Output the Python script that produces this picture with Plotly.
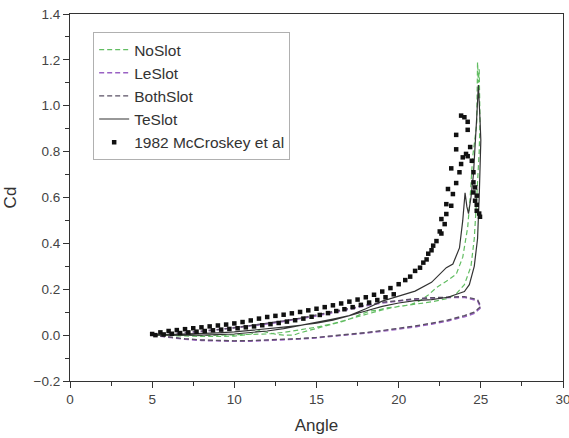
import plotly.graph_objects as go

# ---------------- data ----------------
# NoSlot (upstroke then downstroke)
noslot_angle = [5.0, 6, 7, 8, 9, 10, 11, 11.5, 12, 12.5, 13, 13.6, 14, 14.8, 15.8, 16.6, 17.2, 17.65, 18.26, 18.8,
                19.2, 19.5, 20.0, 20.3, 20.8, 21.3, 21.8, 22.3, 22.9, 23.5, 23.9, 24.2, 24.35, 24.5, 24.75, 24.8,
                24.85, 24.9, 24.95,
                24.9, 24.75, 24.6, 24.4, 24.0, 23.5, 23, 22, 21, 20, 19, 18, 17, 16, 15, 14, 13, 12, 10, 8, 5]
noslot_cd = [0.0, -0.003, -0.005, -0.006, -0.006, -0.004, 0.004, 0.02, 0.012, 0.004, 0.0, 0.0, 0.01, 0.025, 0.047,
             0.06, 0.075, 0.09, 0.105, 0.11, 0.118, 0.12, 0.122, 0.127, 0.135, 0.15, 0.175, 0.207, 0.235, 0.265,
             0.34, 0.47, 0.6, 0.775, 0.92, 1.19, 1.1, 1.16, 0.935,
             0.8, 0.6, 0.42, 0.3, 0.22, 0.18, 0.16, 0.145, 0.135, 0.125, 0.11, 0.09, 0.07, 0.05, 0.035, 0.022,
             0.012, 0.005, 0.0, -0.002, 0.0]

# LeSlot loop
leslot_angle = [5, 6, 7, 8, 9, 10, 11, 12, 13, 14, 15, 16, 17, 18, 19, 20, 21, 22, 23, 24, 24.6, 25,
                24.8, 24, 23, 22, 21, 20, 19, 18, 17, 16, 15, 14, 13, 12, 11, 10, 9, 8, 7, 6, 5]
leslot_cd = [0.0, -0.01, -0.018, -0.023, -0.026, -0.027, -0.026, -0.024, -0.021, -0.017, -0.012, -0.006, 0.001,
             0.009, 0.017, 0.026, 0.036, 0.048, 0.062, 0.08, 0.095, 0.12,
             0.15, 0.165, 0.165, 0.162, 0.157, 0.15, 0.14, 0.128, 0.112, 0.098, 0.084, 0.071, 0.06, 0.049, 0.04,
             0.031, 0.023, 0.016, 0.01, 0.005, 0.0]

# BothSlot loop
bothslot_angle = [5, 6, 7, 8, 9, 10, 11, 12, 13, 14, 15, 16, 17, 18, 19, 20, 21, 22, 23, 24, 24.6, 25,
                  24.8, 24, 23, 22, 21, 20, 19, 18, 17, 16, 15, 14, 13, 12, 11, 10, 9, 8, 7, 6, 5]
bothslot_cd = [0.0, -0.009, -0.016, -0.021, -0.024, -0.025, -0.024, -0.022, -0.019, -0.015, -0.01, -0.004, 0.003,
               0.011, 0.02, 0.029, 0.04, 0.052, 0.066, 0.085, 0.1, 0.125,
               0.155, 0.168, 0.167, 0.163, 0.158, 0.152, 0.143, 0.131, 0.116, 0.101, 0.087, 0.074, 0.062, 0.051,
               0.041, 0.032, 0.024, 0.017, 0.011, 0.005, 0.0]

# TeSlot (upstroke then downstroke)
teslot_angle = [5.0, 6, 7, 8, 9, 10, 11, 12, 13, 14, 15, 16, 17, 18, 19, 20, 21, 22, 22.9, 23.3, 23.7, 23.9,
                24.04, 24.15, 24.25, 24.4, 24.55, 24.75, 24.85, 24.95, 25.0,
                24.9, 24.8, 24.6, 24.3, 24.0, 23, 22, 21, 20, 19, 18, 17, 16, 15, 14, 13, 12, 11, 10, 8, 5]
teslot_cd = [0.0, 0.002, 0.004, 0.007, 0.01, 0.014, 0.02, 0.027, 0.035, 0.043, 0.052, 0.065, 0.085, 0.115, 0.148,
             0.17, 0.192, 0.23, 0.294, 0.31, 0.38, 0.5, 0.62, 0.56, 0.53, 0.6, 0.7, 0.95, 1.09, 0.94, 0.85,
             0.6, 0.42, 0.3, 0.22, 0.19, 0.165, 0.155, 0.15, 0.14, 0.125, 0.105, 0.085, 0.07, 0.055, 0.04, 0.028,
             0.018, 0.01, 0.005, 0.0, 0.0]

# 1982 McCroskey et al. experimental points
exp_upper_angle = [5.0, 5.5, 6.0, 6.5, 7.0, 7.5, 8.0, 8.5, 9.0, 9.5, 10.0, 10.5, 11.0, 11.5, 12.0, 12.5, 13.0,
                   13.5, 14.0, 14.5, 15.0, 15.5, 16.0, 16.5, 17.0, 17.5, 18.0, 18.5, 19.0, 19.5, 20.0]
exp_upper_cd = [0.005, 0.012, 0.018, 0.022, 0.026, 0.03, 0.034, 0.038, 0.042, 0.046, 0.051, 0.057, 0.064, 0.072,
                0.079, 0.084, 0.089, 0.095, 0.101, 0.108, 0.115, 0.122, 0.13, 0.138, 0.146, 0.155, 0.165, 0.176,
                0.19, 0.205, 0.222]
exp_lower_angle = [5.2, 5.7, 6.2, 6.7, 7.2, 7.7, 8.2, 8.7, 9.2, 9.7, 10.2, 10.7, 11.2, 11.7, 12.2, 12.7, 13.2,
                   13.7, 14.2, 14.7, 15.2, 15.7, 16.2, 16.7, 17.2, 17.7, 18.2, 18.7, 19.2, 19.7]
exp_lower_cd = [0.0, 0.003, 0.006, 0.009, 0.012, 0.015, 0.018, 0.021, 0.024, 0.027, 0.03, 0.034, 0.038, 0.043,
                0.048, 0.053, 0.059, 0.065, 0.072, 0.08, 0.088, 0.096, 0.105, 0.113, 0.122, 0.132, 0.142, 0.153,
                0.165, 0.178]
exp_stall_angle = [20.4, 20.7, 21.0, 21.3, 21.5, 21.7, 21.8, 22.0, 22.1, 22.3, 22.5, 22.6, 22.6, 22.8, 22.9, 22.9,
                   23.0, 23.2, 23.2, 23.3, 23.5, 23.5, 23.5, 23.7, 23.8, 23.8, 23.9, 24.0, 24.1, 24.2, 24.2, 24.2,
                   24.35, 24.45, 24.55, 24.55, 24.65, 24.55, 24.75, 24.65, 24.75, 24.75, 24.9, 24.95]
exp_stall_cd = [0.24, 0.255, 0.28, 0.294, 0.316, 0.33, 0.355, 0.37, 0.39, 0.41, 0.452, 0.443, 0.506, 0.484, 0.528,
                0.571, 0.637, 0.564, 0.727, 0.615, 0.663, 0.81, 0.873, 0.71, 0.746, 0.957, 0.775, 0.95, 0.79, 0.93,
                0.78, 0.895, 0.82, 0.76, 0.71, 0.666, 0.644, 0.622, 0.608, 0.586, 0.568, 0.542, 0.53, 0.516]

exp_angle = exp_upper_angle + exp_lower_angle + exp_stall_angle
exp_cd = exp_upper_cd + exp_lower_cd + exp_stall_cd

# ---------------- figure ----------------
FONT = "Liberation Sans, Arial, sans-serif"
fig = go.Figure()

fig.add_trace(go.Scatter(x=noslot_angle, y=noslot_cd, mode="lines", name="NoSlot",
                         line=dict(color="#62bd62", width=1.2, dash="5px,3px")))
fig.add_trace(go.Scatter(x=leslot_angle, y=leslot_cd, mode="lines", name="LeSlot",
                         line=dict(color="#9a62c4", width=1.6, dash="5px,3px")))
fig.add_trace(go.Scatter(x=bothslot_angle, y=bothslot_cd, mode="lines", name="BothSlot",
                         line=dict(color="#5a5064", width=1.4, dash="5px,3px")))
fig.add_trace(go.Scatter(x=teslot_angle, y=teslot_cd, mode="lines", name="TeSlot",
                         line=dict(color="#333333", width=1.2)))
fig.add_trace(go.Scatter(x=exp_angle, y=exp_cd, mode="markers", name="1982 McCroskey et al",
                         marker=dict(symbol="square", size=4.5, color="#111111")))

axis_common = dict(
    showline=True, linecolor="#333333", linewidth=1.2, mirror=True,
    ticks="outside", ticklen=6, tickwidth=1.2, tickcolor="#333333",
    showgrid=False, zeroline=False, ticklabeloverflow="allow", automargin=False,
    tickfont=dict(family=FONT, size=13.5, color="#444444"),
)

fig.update_layout(
    width=569, height=438,
    margin=dict(l=70, r=6, t=14, b=57, autoexpand=False),
    paper_bgcolor="white", plot_bgcolor="white",
    font=dict(family=FONT, color="#333333"),
    xaxis=dict(range=[0, 30], dtick=5, tick0=0,
               minor=dict(ticks="outside", ticklen=4, dtick=2.5, tickcolor="#333333", tickwidth=1.2),
               title=dict(text="Angle", font=dict(family=FONT, size=17, color="#333333"), standoff=12),
               **axis_common),
    yaxis=dict(range=[-0.2, 1.4], dtick=0.2, tick0=0, tickformat=".1f",
               minor=dict(ticks="outside", ticklen=4, dtick=0.1, tickcolor="#333333", tickwidth=1.2),
               title=dict(text="Cd", font=dict(family=FONT, size=17, color="#333333"), standoff=12),
               **axis_common),
    legend=dict(x=0.047, y=0.951, xanchor="left", yanchor="top",
                bgcolor="white", bordercolor="#b0b0b0", borderwidth=1,
                font=dict(family=FONT, size=15.5, color="#333333"),
                tracegroupgap=0),
    showlegend=True,
)

fig.write_html("out.html")
